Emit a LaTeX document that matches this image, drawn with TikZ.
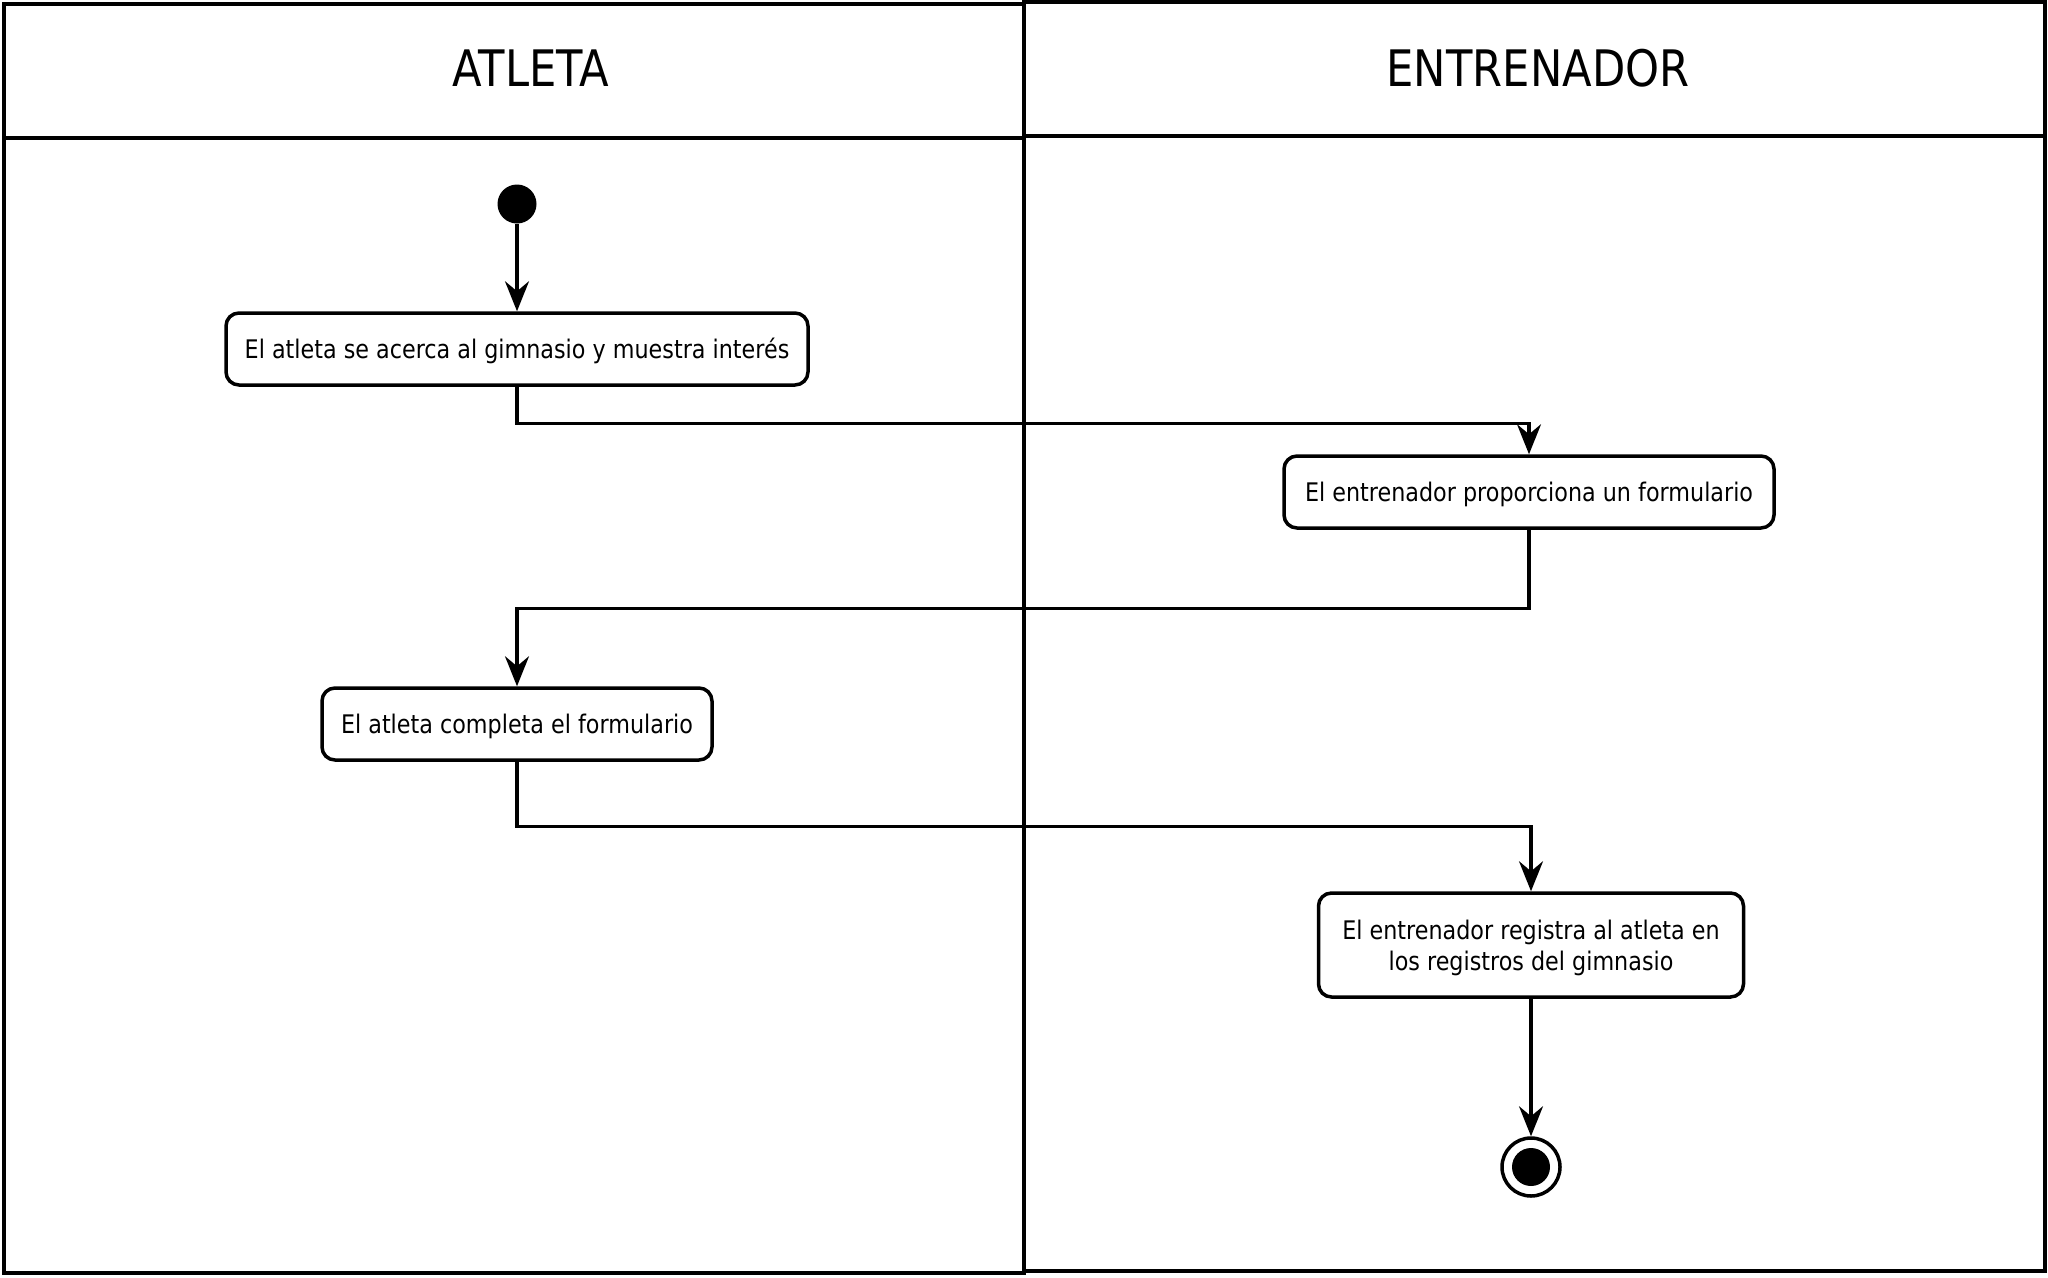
\documentclass[tikz,border=0pt]{standalone}
\usepackage{fontspec}
\setmainfont{DejaVu Sans}[FakeStretch=0.87]
\newfontfamily\hdrfont{DejaVu Sans}[FakeStretch=0.86]
\usetikzlibrary{arrows.meta}
\begin{document}
\begin{tikzpicture}[x=1pt,y=-1pt,
  lane/.style={draw,line width=4.3pt},
  act/.style={draw,line width=3.5pt,rounded corners=13pt,inner sep=0pt,align=center,
    font=\fontsize{25.6}{31}\selectfont,text height=18pt,text depth=0pt},
  flow/.style={line width=3.2pt,-{Stealth[length=30pt,width=24pt,inset=10pt]}},
  hdr/.style={font=\hdrfont\fontsize{50.3}{60}\selectfont}]
\useasboundingbox (0,0) rectangle (2048,1277);
\fill[white] (0,0) rectangle (2048,1277);
% lanes
\draw[lane] (4,4) rectangle (1024,1273);
\draw[lane] (4,138) -- (1024,138);
\draw[lane] (1024,2) rectangle (2045,1271);
\draw[lane] (1024,136) -- (2045,136);
\node[hdr] (h1) at (531,68.5) {ATLETA};
\node[hdr] (h2) at (1538,68.5) {ENTRENADOR};
% nodes
\node[circle,fill,inner sep=0pt,minimum size=39pt] (start) at (517,204) {};
\node[act,minimum width=582pt,minimum height=72pt] (a1) at (517,349) {El atleta se acerca al gimnasio y muestra interés};
\node[act,minimum width=490pt,minimum height=72pt] (a2) at (1529,492) {El entrenador proporciona un formulario};
\node[act,minimum width=390pt,minimum height=72pt] (a3) at (517,724) {El atleta completa el formulario};
\node[act,minimum width=425pt,minimum height=104pt,text height=0pt,text depth=11pt] (a4) at (1531,945)
  {\begin{tabular}[t]{@{}c@{}}El entrenador registra al atleta en\\los registros del gimnasio\end{tabular}};
\node[circle,draw,line width=3.5pt,inner sep=0pt,minimum size=58pt] (end) at (1531,1167) {};
\node[circle,fill,inner sep=0pt,minimum size=38pt] (endin) at (end) {};
% flows
\draw[flow] (start) -- (a1);
\draw[flow] (a1.south) -- ++(0,37) -| (a2.north);
\draw[flow] (a2.south) -- ++(0,79) -| (a3.north);
\draw[flow] (a3.south) -- ++(0,65) -| (a4.north);
\draw[flow] (a4) -- (end);
\end{tikzpicture}
\end{document}
